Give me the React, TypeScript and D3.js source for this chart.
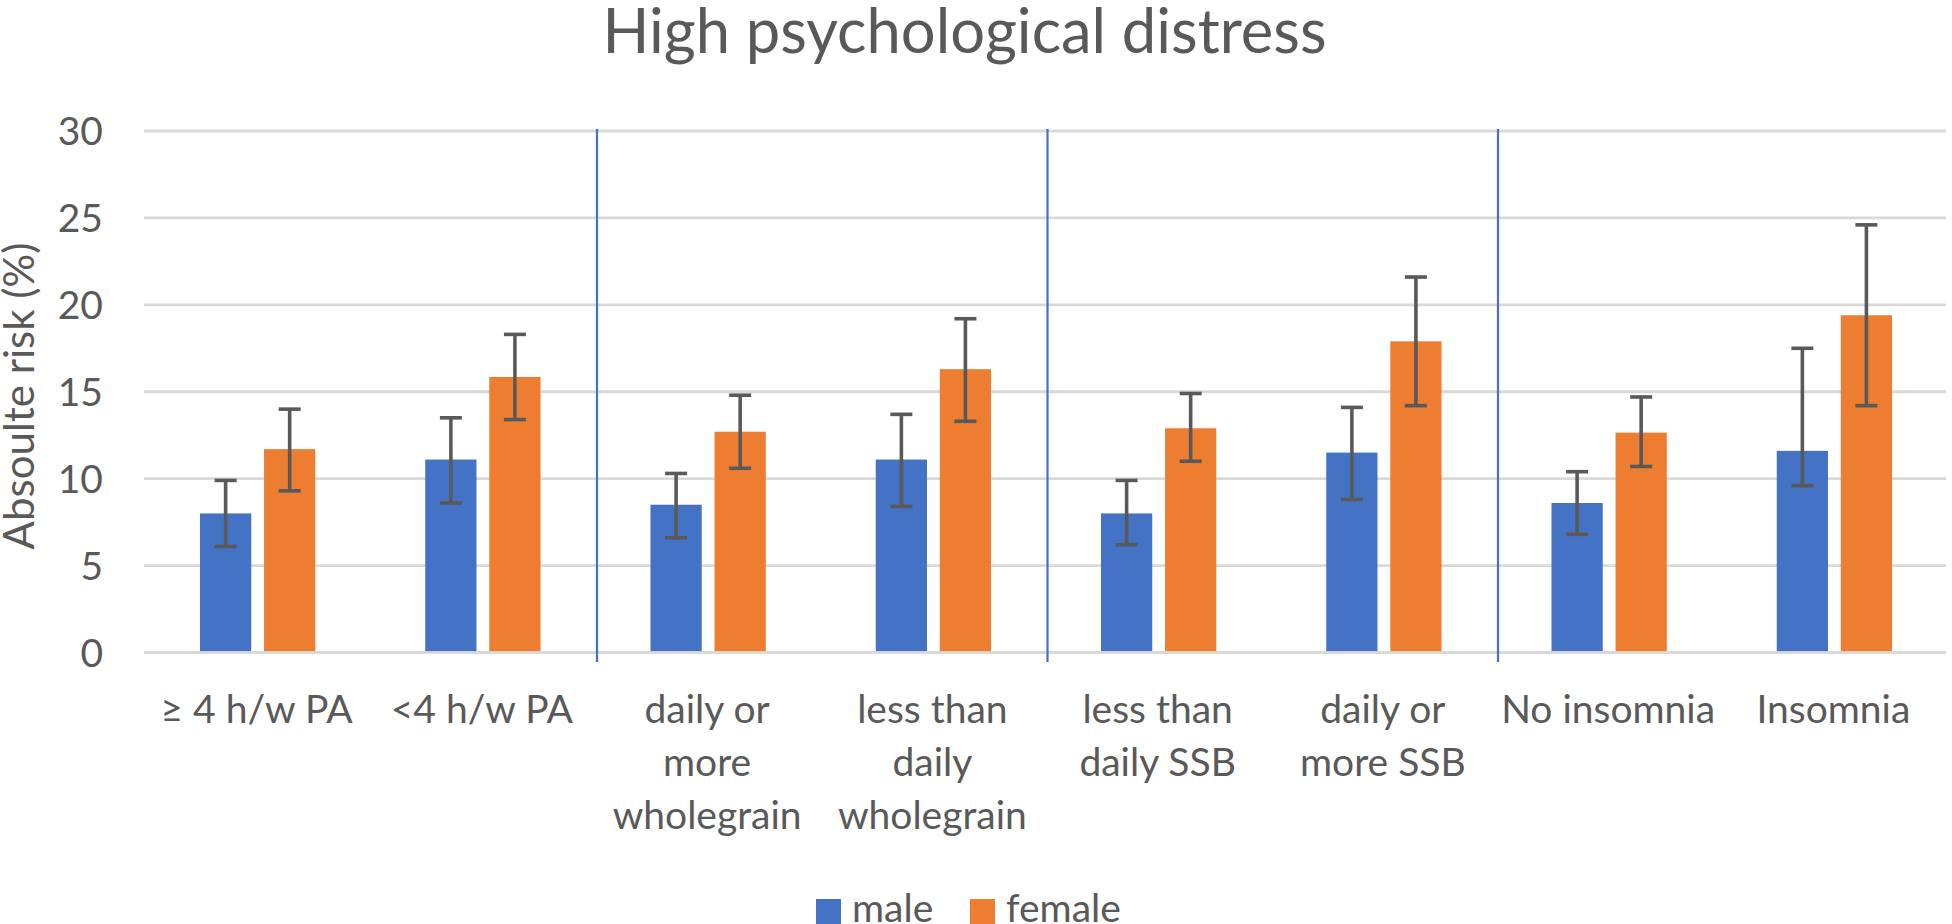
import React from "react";
import * as d3 from "d3";

const categories: string[][] = [
  ["≥ 4 h/w PA"],
  ["<4 h/w PA"],
  ["daily or", "more", "wholegrain"],
  ["less than", "daily", "wholegrain"],
  ["less than", "daily SSB"],
  ["daily or", "more SSB"],
  ["No insomnia"],
  ["Insomnia"],
];
const series = ["male", "female"];
const maleValues = [8.0, 11.1, 8.5, 11.1, 8.0, 11.5, 8.6, 11.6];
const maleLow = [6.1, 8.6, 6.6, 8.4, 6.2, 8.8, 6.8, 9.6];
const maleHigh = [9.9, 13.5, 10.3, 13.7, 9.9, 14.1, 10.4, 17.5];
const femaleValues = [11.7, 15.85, 12.7, 16.3, 12.9, 17.9, 12.65, 19.4];
const femaleLow = [9.3, 13.4, 10.6, 13.3, 11.0, 14.2, 10.7, 14.2];
const femaleHigh = [14.0, 18.3, 14.8, 19.2, 14.9, 21.6, 14.7, 24.6];
const yTicks = [0, 5, 10, 15, 20, 25, 30];
const separatorsAfter = [1, 3, 5];

const W = 1952;
const H = 924;
const FONT = "Lato, 'Open Sans', sans-serif";
const TEXT = "#595959";
const COLORS: Record<string, string> = { male: "#4472C4", female: "#ED7D31" };

export default function App() {
  const keys = categories.map((_, i) => String(i));
  const x = d3.scaleBand<string>().domain(keys).range([144, 1946]).padding(0);
  const bw = x.bandwidth();
  const inner = d3
    .scaleBand<string>()
    .domain(series)
    .range([bw * 0.2486, bw * 0.7604])
    .paddingInner(0.2)
    .paddingOuter(0);
  const y = d3.scaleLinear().domain([0, 30]).range([652.5, 131]);

  const data = series.map((s) => ({
    key: s,
    vals: s === "male" ? maleValues : femaleValues,
    lo: s === "male" ? maleLow : femaleLow,
    hi: s === "male" ? maleHigh : femaleHigh,
  }));

  return (
    <svg
      width={W}
      height={H}
      style={{ position: "absolute", left: 0, top: 0, background: "#fff" }}
      fontFamily={FONT}
    >
      <text x={964.5} y={53} textAnchor="middle" fontSize={61.5} fill={TEXT}>
        High psychological distress
      </text>
      {yTicks.map((t) => (
        <g key={t}>
          <line x1={144} x2={1946} y1={y(t)} y2={y(t)} stroke="#D9D9D9" strokeWidth={2.8} />
          <text x={103} y={y(t) + 14} textAnchor="end" fontSize={39} fill={TEXT}>
            {t}
          </text>
        </g>
      ))}
      <text
        transform={`translate(34,${396}) rotate(-90)`}
        textAnchor="middle"
        fontSize={42}
        fill={TEXT}
      >
        Absoulte risk (%)
      </text>
      {data.map((s) =>
        s.vals.map((v, i) => {
          const bx = (x(keys[i]) as number) + (inner(s.key) as number);
          const cx = bx + inner.bandwidth() / 2;
          return (
            <g key={s.key + i}>
              <rect
                x={bx}
                y={y(v)}
                width={inner.bandwidth()}
                height={y(0) - y(v) - 1.4}
                fill={COLORS[s.key]}
              />
              <g stroke="#595959" strokeWidth={3.6}>
                <line x1={cx} x2={cx} y1={y(s.hi[i])} y2={y(s.lo[i])} />
                <line x1={cx - 11} x2={cx + 11} y1={y(s.hi[i])} y2={y(s.hi[i])} />
                <line x1={cx - 11} x2={cx + 11} y1={y(s.lo[i])} y2={y(s.lo[i])} />
              </g>
            </g>
          );
        })
      )}
      {separatorsAfter.map((i) => {
        const sx = (x(keys[i]) as number) + bw + 2.5;
        return (
          <line key={i} x1={sx} x2={sx} y1={129} y2={662} stroke="#4472C4" strokeWidth={2.2} />
        );
      })}
      {categories.map((lines, i) => (
        <text
          key={i}
          x={(x(keys[i]) as number) + bw / 2}
          y={723}
          textAnchor="middle"
          fontSize={39}
          fill={TEXT}
        >
          {lines.map((l, j) => (
            <tspan key={j} x={(x(keys[i]) as number) + bw / 2} y={723 + j * 52.8}>
              {l}
            </tspan>
          ))}
        </text>
      ))}
      <g>
        <rect x={816} y={899} width={25} height={25} fill={COLORS.male} />
        <text x={852} y={922} fontSize={39} fill={TEXT}>
          male
        </text>
        <rect x={970} y={899} width={25} height={25} fill={COLORS.female} />
        <text x={1006} y={922} fontSize={39} fill={TEXT}>
          female
        </text>
      </g>
    </svg>
  );
}
